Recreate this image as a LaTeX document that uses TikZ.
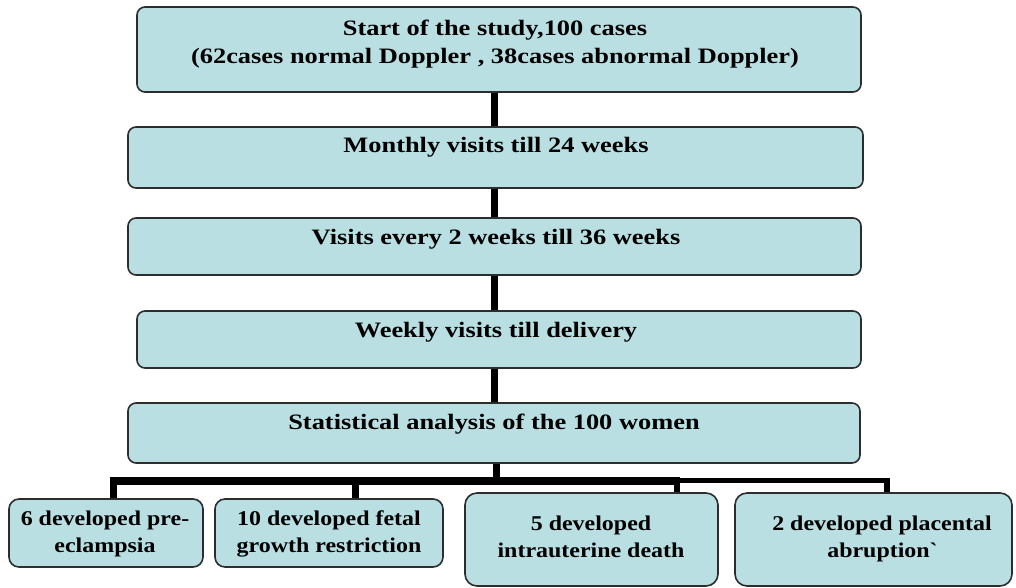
\documentclass[tikz,border=0pt]{standalone}
\usepackage{fontspec}
\setmainfont{Liberation Serif}
\newfontfamily\topfont{Liberation Serif}[FakeStretch=1.2]
\newfontfamily\botfont{Liberation Serif}[FakeStretch=1.14]
\definecolor{boxfill}{RGB}{185,223,227}
\definecolor{boxline}{RGB}{45,45,45}
\begin{document}
\begin{tikzpicture}[x=1pt,y=-1pt,
  box/.style={draw=boxline, line width=1.6pt, fill=boxfill, rounded corners=8pt, inner sep=0pt},
  bbox/.style={box, rounded corners=12pt},
  ttext/.style={font={\topfont\bfseries\fontsize{22}{28}\selectfont}, align=center, inner sep=0pt, anchor=base, text=black},
  btext/.style={font={\botfont\bfseries\fontsize{21}{27}\selectfont}, align=center, inner sep=0pt, anchor=base, text=black},
  conn/.style={line width=7pt, black},
  bar/.style={line width=8pt, black},
  thinbar/.style={line width=5pt, black}]
\useasboundingbox (0,0) rectangle (1016,587);
% main boxes
\node[box, minimum width=724pt, minimum height=85pt] (b1) at (499,49.5) {};
\node[box, minimum width=735pt, minimum height=61pt] (b2) at (495.5,157.5) {};
\node[box, minimum width=733pt, minimum height=57pt] (b3) at (494.5,246.5) {};
\node[box, minimum width=724pt, minimum height=57pt] (b4) at (499,339.5) {};
\node[box, minimum width=732pt, minimum height=60pt] (b5) at (494,433) {};
% outcome boxes
\node[box, rounded corners=10pt, minimum width=194pt, minimum height=68pt] (c1) at (106,533) {};
\node[box, rounded corners=10pt, minimum width=228pt, minimum height=68pt] (c2) at (329,533) {};
\node[bbox, minimum width=253pt, minimum height=93pt] (c3) at (591.5,539.5) {};
\node[bbox, minimum width=277pt, minimum height=93pt] (c4) at (873.5,539.5) {};
% texts (base anchor = baseline of the last line)
\node[ttext] (t1) at (495,63) {Start of the study,100 cases\\(62cases normal Doppler , 38cases abnormal Doppler)};
\node[ttext] (t2) at (496,152) {Monthly visits till 24 weeks};
\node[ttext] (t3) at (496,244) {Visits every 2 weeks till 36 weeks};
\node[ttext] (t4) at (496,337) {Weekly visits till delivery};
\node[ttext] (t5) at (494,429) {Statistical analysis of the 100 women};
\node[btext] (u1) at (105,552) {6 developed pre-\\eclampsia};
\node[btext] (u2) at (329,552) {10 developed fetal\\growth restriction};
\node[btext] (u3) at (591,557) {5 developed\\intrauterine death};
\node[btext] (u4) at (882,557) {2 developed placental\\abruption\textasciigrave};
% connectors
\coordinate (sp) at (494,0);
\coordinate (sq) at (496,0);
\coordinate (barL) at (110,481);
\coordinate (barM) at (680,481);
\coordinate (barR) at (890,480.5);
\draw[conn] (b1.south -| sp) -- (b2.north -| sp);
\draw[conn] (b2.south -| sp) -- (b3.north -| sp);
\draw[conn] (b3.south -| sp) -- (b4.north -| sp);
\draw[conn] (b4.south -| sp) -- (b5.north -| sp);
\draw[conn] (b5.south -| sq) -- (barL -| sq);
\draw[bar] (barL) -- (barM);
\draw[thinbar] (barM |- barR) -- (barR);
\draw[conn] ([xshift=3.5pt]barL) ++(0,-4) -- (c1.north -| 113.5,0);
\draw[conn] (barL -| 355.5,0) ++(0,-4) -- (c2.north -| 355.5,0);
\draw[line width=6pt] (barM -| 677,0) -- (c3.north -| 677,0);
\draw[line width=6pt] (barR -| 887,0) ++(0,-2) -- (c4.north -| 887,0);
\end{tikzpicture}
\end{document}
